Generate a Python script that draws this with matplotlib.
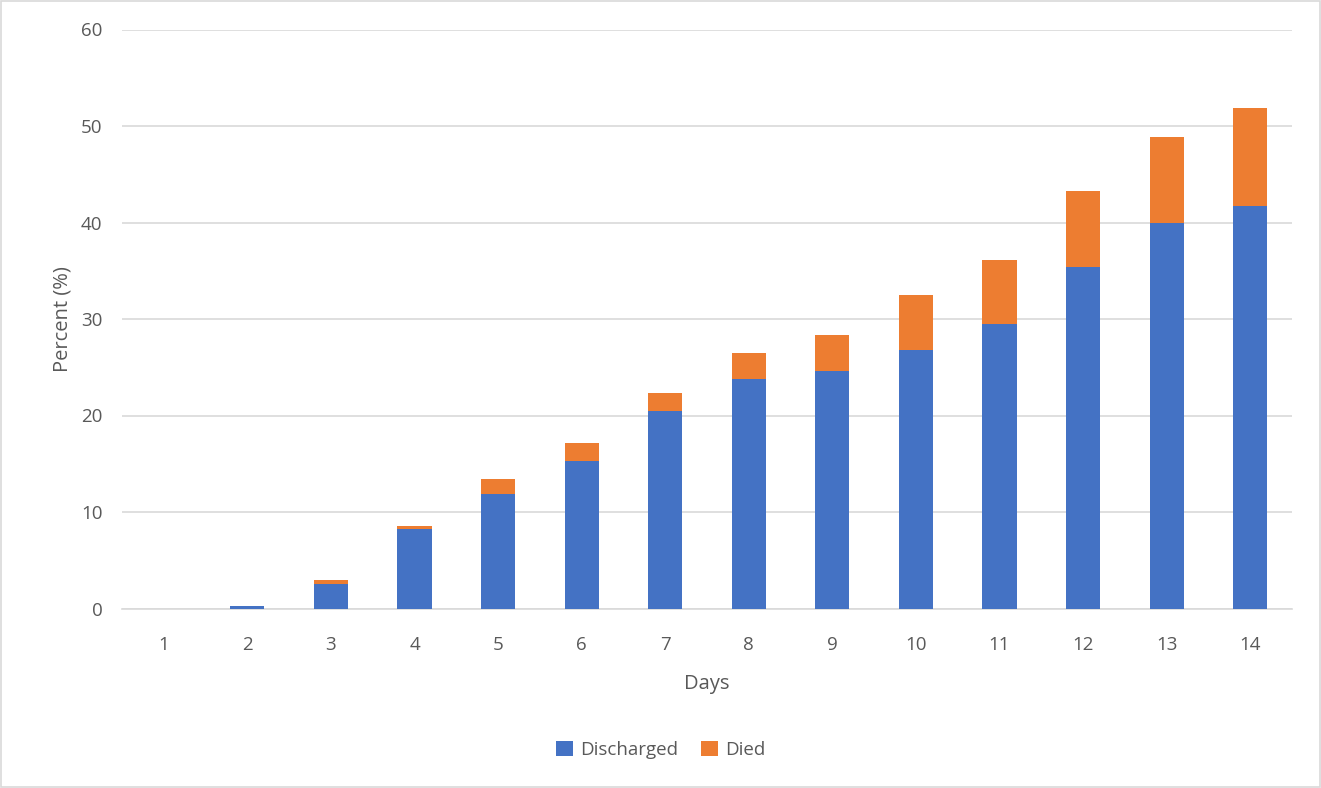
import numpy as np
import matplotlib.pyplot as plt

plt.rcParams['font.family'] = ['Open Sans', 'DejaVu Sans']

# data
days = [1, 2, 3, 4, 5, 6, 7, 8, 9, 10, 11, 12, 13, 14]
discharged = [0.0, 0.3, 2.5, 8.2, 11.9, 15.25, 20.5, 23.8, 24.6, 26.8, 29.45, 35.4, 39.9, 41.7]
total = [0.0, 0.3, 2.95, 8.55, 13.4, 17.15, 22.3, 26.5, 28.35, 32.5, 36.1, 43.25, 48.9, 51.9]
died = [t - d for t, d in zip(total, discharged)]

blue = '#4472c4'
orange = '#ed7d31'
grid_col = '#d9d9d9'
text_col = '#595959'

fig = plt.figure(figsize=(13.21, 7.88), dpi=100)
ax = fig.add_axes([122 / 1321, 1 - 608.5 / 788, (1292 - 122) / 1321, (608.5 - 29.5) / 788])

x = np.array(days)
ax.bar(x, discharged, width=0.41, color=blue, label='Discharged', zorder=3)
ax.bar(x, died, width=0.41, bottom=discharged, color=orange, label='Died', zorder=3)

ax.set_xlim(0.5, 14.5)
ax.set_ylim(0, 60)
ax.set_yticks(range(0, 61, 10))
ax.set_xticks(x)
ax.set_xticklabels([str(d) for d in days])
ax.yaxis.grid(True, color=grid_col, linewidth=1.2, zorder=0)
ax.tick_params(length=0, labelsize=13.5, colors=text_col)
ax.tick_params(axis='x', pad=20)
ax.tick_params(axis='y', pad=14)
for side in ['top', 'right', 'left']:
    ax.spines[side].set_visible(False)
ax.spines['bottom'].set_color(grid_col)
ax.spines['bottom'].set_linewidth(1.2)

ax.set_xlabel('Days', fontsize=14.5, color=text_col, labelpad=14)
ax.set_ylabel('Percent (%)', fontsize=14.5, color=text_col, labelpad=6)

fig.legend(loc='center', bbox_to_anchor=(0.5, 1 - 750 / 788), ncol=2, frameon=False,
           fontsize=13.5, handlelength=0.9, handleheight=0.9, columnspacing=1.2,
           handletextpad=0.4, labelcolor=text_col)

# outer chart border
fig.patches.append(plt.Rectangle((0.001, 0.001), 0.998, 0.998, transform=fig.transFigure,
                                 fill=False, edgecolor=grid_col, linewidth=1.2))

fig.savefig('out.png', dpi=100)
